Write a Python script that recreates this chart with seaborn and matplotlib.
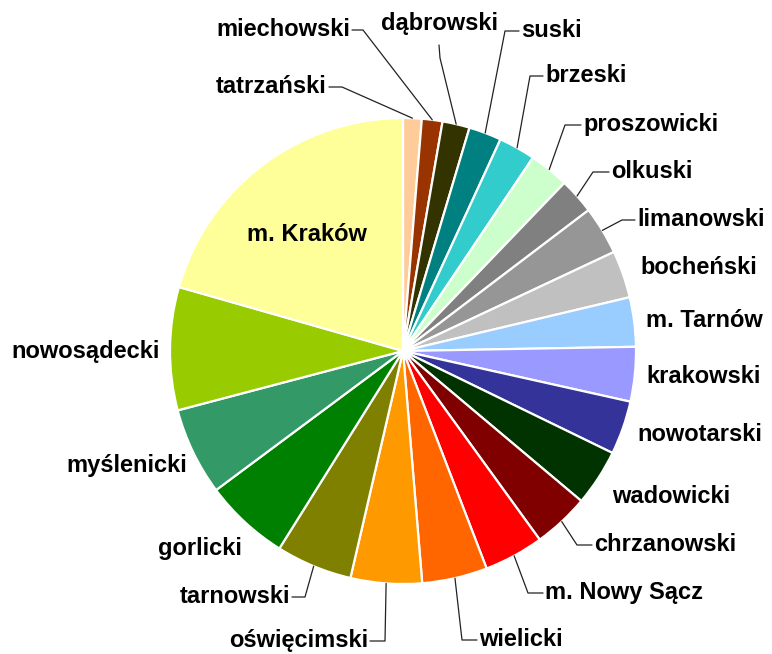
import matplotlib

matplotlib.use("Agg")
import matplotlib.pyplot as plt
import numpy as np
import seaborn as sns

# powiaty of Małopolska, clockwise from 12 o'clock
districts = [
    "tatrzański", "miechowski", "dąbrowski", "suski", "brzeski", "proszowicki",
    "olkuski", "limanowski", "bocheński", "m. Tarnów", "krakowski", "nowotarski",
    "wadowicki", "chrzanowski", "m. Nowy Sącz", "wielicki", "oświęcimski",
    "tarnowski", "gorlicki", "myślenicki", "nowosądecki", "m. Kraków",
]
shares = [
    1.29, 1.43, 1.89, 2.26, 2.55, 2.76, 2.49, 3.35, 3.28, 3.42, 3.78, 3.72,
    3.92, 3.89, 4.14, 4.53, 4.94, 5.28, 5.92, 6.08, 8.53, 20.58,
]
colors = [
    "#FFCC99", "#993300", "#333300", "#008080", "#33CCCC", "#CCFFCC",
    "#808080", "#969696", "#C0C0C0", "#99CCFF", "#9999FF", "#333399",
    "#003300", "#800000", "#FF0000", "#FF6600", "#FF9900", "#808000",
    "#008000", "#339966", "#99CC00", "#FFFF99",
]

W, H = 772, 654
CENTER = (403, H - 351)
RADIUS = 233

# label layout in pixels from the top: text x, baseline y, alignment, knee x of leader
label_layout = {
    "tatrzański": (327, 93, "right", 342),
    "miechowski": (350, 36, "right", 363),
    "dąbrowski": (439, 30, "center", None),
    "suski": (521, 37, "left", 505),
    "brzeski": (545, 82, "left", 530),
    "proszowicki": (583, 131, "left", 565),
    "olkuski": (611, 178, "left", 593),
    "limanowski": (637, 226, "left", 622),
    "bocheński": (640, 274, "left", None),
    "m. Tarnów": (646, 327, "left", None),
    "krakowski": (646, 383, "left", None),
    "nowotarski": (637, 441, "left", None),
    "wadowicki": (612, 503, "left", None),
    "chrzanowski": (594, 551, "left", 577),
    "m. Nowy Sącz": (545, 599, "left", 528),
    "wielicki": (479, 646, "left", 462),
    "oświęcimski": (368, 647, "right", 385),
    "tarnowski": (290, 603, "right", 305),
    "gorlicki": (242, 555, "right", None),
    "myślenicki": (187, 472, "right", None),
    "nowosądecki": (160, 358, "right", None),
    "m. Kraków": (307, 241, "center", None),
}


def main() -> None:
    sns.set_theme(style="white")
    plt.rcParams["font.family"] = ["Liberation Sans", "DejaVu Sans"]

    fig = plt.figure(figsize=(W / 100, H / 100), dpi=100)
    ax = fig.add_axes([0, 0, 1, 1])

    wedges, _ = ax.pie(
        shares,
        colors=sns.color_palette(colors),
        startangle=90,
        counterclock=False,
        center=CENTER,
        radius=RADIUS,
        wedgeprops={"edgecolor": "white", "linewidth": 1.6},
        frame=True,
    )
    ax.set_xlim(0, W)
    ax.set_ylim(0, H)
    ax.set_aspect("equal")
    ax.axis("off")

    for name, wedge in zip(districts, wedges):
        x, base, ha, knee = label_layout[name]
        y = H - base
        ax.text(x, y, name, ha=ha, va="baseline", fontsize=17,
                fontweight="bold", color="black")

        theta = np.deg2rad((wedge.theta1 + wedge.theta2) / 2)
        ax_x = CENTER[0] + RADIUS * np.cos(theta)
        ax_y = CENTER[1] + RADIUS * np.sin(theta)
        if name == "dąbrowski":
            ax.plot([ax_x, 440, 439], [ax_y, H - 58, H - 45],
                    color="#222222", linewidth=0.9)
        elif knee is not None:
            ky = y + 6
            edge = x + 2 if ha == "right" else x - 2
            ax.plot([ax_x, knee, edge], [ax_y, ky, ky],
                    color="#222222", linewidth=0.9)

    fig.savefig("out.png", dpi=100, facecolor="white")
    plt.close(fig)


if __name__ == "__main__":
    main()
